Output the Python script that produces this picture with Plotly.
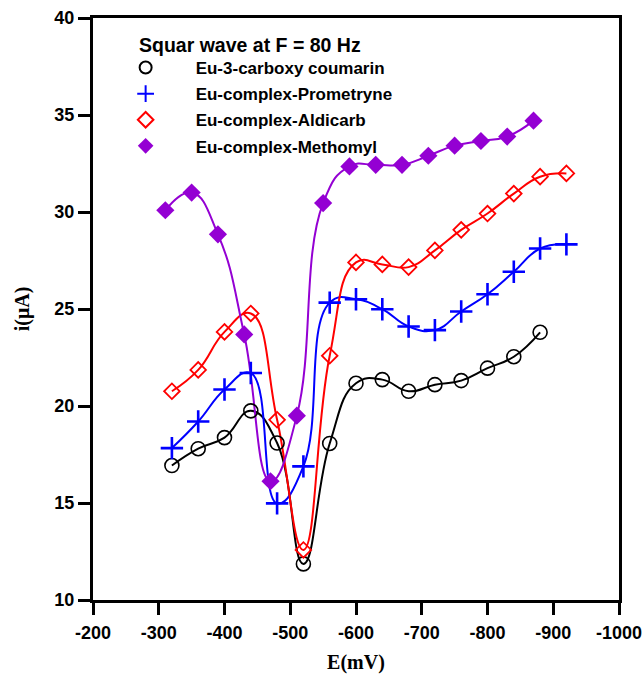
import plotly.graph_objects as go

# ---- data ----
x_black = [-320, -360, -400, -440, -480, -520, -560, -600, -640, -680, -720, -760, -800, -840, -880]
y_black = [16.93, 17.80, 18.37, 19.75, 18.09, 11.86, 18.07, 21.17, 21.36, 20.76, 21.10, 21.31, 21.95, 22.54, 23.80]

x_blue = [-320, -360, -400, -440, -480, -520, -560, -600, -640, -680, -720, -760, -800, -840, -880, -920]
y_blue = [17.83, 19.20, 20.85, 21.70, 14.98, 16.89, 25.33, 25.50, 24.99, 24.10, 23.91, 24.87, 25.76, 26.92, 28.12, 28.33]

x_red = [-320, -360, -400, -440, -480, -520, -560, -600, -640, -680, -720, -760, -800, -840, -880, -920]
y_red = [20.76, 21.86, 23.82, 24.77, 19.29, 12.58, 22.59, 27.40, 27.30, 27.16, 28.02, 29.08, 29.92, 30.95, 31.82, 31.99]

x_purple = [-310, -350, -390, -430, -470, -510, -550, -590, -630, -670, -710, -750, -790, -830, -870]
y_purple = [30.09, 31.00, 28.85, 23.69, 16.12, 19.50, 30.46, 32.35, 32.43, 32.43, 32.90, 33.42, 33.66, 33.89, 34.71]

names = ["Eu-3-carboxy coumarin", "Eu-complex-Prometryne", "Eu-complex-Aldicarb", "Eu-complex-Methomyl"]
colors = ["#000000", "#0000FF", "#FF0000", "#9400D3"]
symbols = ["circle-open", "cross-thin", "diamond-open", "diamond"]
legend_title = "Squar wave at F = 80 Hz"

x_ticks = [-200, -300, -400, -500, -600, -700, -800, -900, -1000]
x_tick_labels = ["-200", "-300", "-400", "-500", "-600", "-700", "-800", "-900", "-1000"]
y_ticks = [10, 15, 20, 25, 30, 35, 40]
y_tick_labels = ["10", "15", "20", "25", "30", "35", "40"]

series = [(x_black, y_black), (x_blue, y_blue), (x_red, y_red), (x_purple, y_purple)]
marker_sizes = [14, 16, 12, 14]
marker_lw = [1.6, 2.6, 1.8, 0]

fig = go.Figure()
for (xs, ys), c, nm in zip(series, colors, names):
    fig.add_trace(go.Scatter(
        x=xs, y=ys, mode="lines", showlegend=False, hoverinfo="skip",
        legendgroup=nm,
        line=dict(color=c, width=2, shape="spline", smoothing=1.3)))
for (xs, ys), nm, c, sym, ms, mlw in zip(series, names, colors, symbols, marker_sizes, marker_lw):
    fig.add_trace(go.Scatter(
        x=xs, y=ys, mode="markers", name=nm, legendgroup=nm,
        marker=dict(symbol=sym, size=ms, color=c,
                    line=dict(color=c, width=mlw))))

sans = "Liberation Sans, Arial, sans-serif"
serif = "Liberation Serif, Times New Roman, serif"
tick_font = dict(family=sans, size=18, color="black", weight="bold")
title_font = dict(family=serif, size=20, color="black")

fig.add_annotation(
    text="<b>" + legend_title + "</b>", xref="paper", yref="paper",
    x=0.0835, y=0.954, xanchor="left", yanchor="middle", showarrow=False,
    font=dict(family=sans, size=19.5, color="black"))

fig.update_layout(
    width=644, height=674,
    margin=dict(l=93, r=25, t=18, b=74),
    paper_bgcolor="white", plot_bgcolor="white",
    font=dict(family=sans, color="black"),
    legend=dict(
        x=0.005, y=0.945, xanchor="left", yanchor="top",
        bgcolor="rgba(0,0,0,0)", borderwidth=0,
        font=dict(family=sans, size=17, color="black", weight="bold"),
        itemwidth=90, itemsizing="constant",
        traceorder="grouped", tracegroupgap=1,
    ),
    xaxis=dict(
        range=[-200, -1000], tickvals=x_ticks, ticktext=x_tick_labels,
        showgrid=False, zeroline=False, automargin=False,
        showline=True, linecolor="black", linewidth=3, mirror=True,
        ticks="outside", ticklen=12, tickwidth=3, tickcolor="black",
        ticklabelstandoff=2,
        tickfont=tick_font,
        title=dict(text="<b>E(mV)</b>", font=title_font, standoff=16),
    ),
    yaxis=dict(
        range=[10, 40], tickvals=y_ticks, ticktext=y_tick_labels,
        showgrid=False, zeroline=False, automargin=False,
        showline=True, linecolor="black", linewidth=3, mirror=True,
        ticks="outside", ticklen=12, tickwidth=3, tickcolor="black",
        tickfont=tick_font,
        title=dict(text="<b>i(μA)</b>", font=title_font, standoff=20),
    ),
)

fig.write_html("out.html")
